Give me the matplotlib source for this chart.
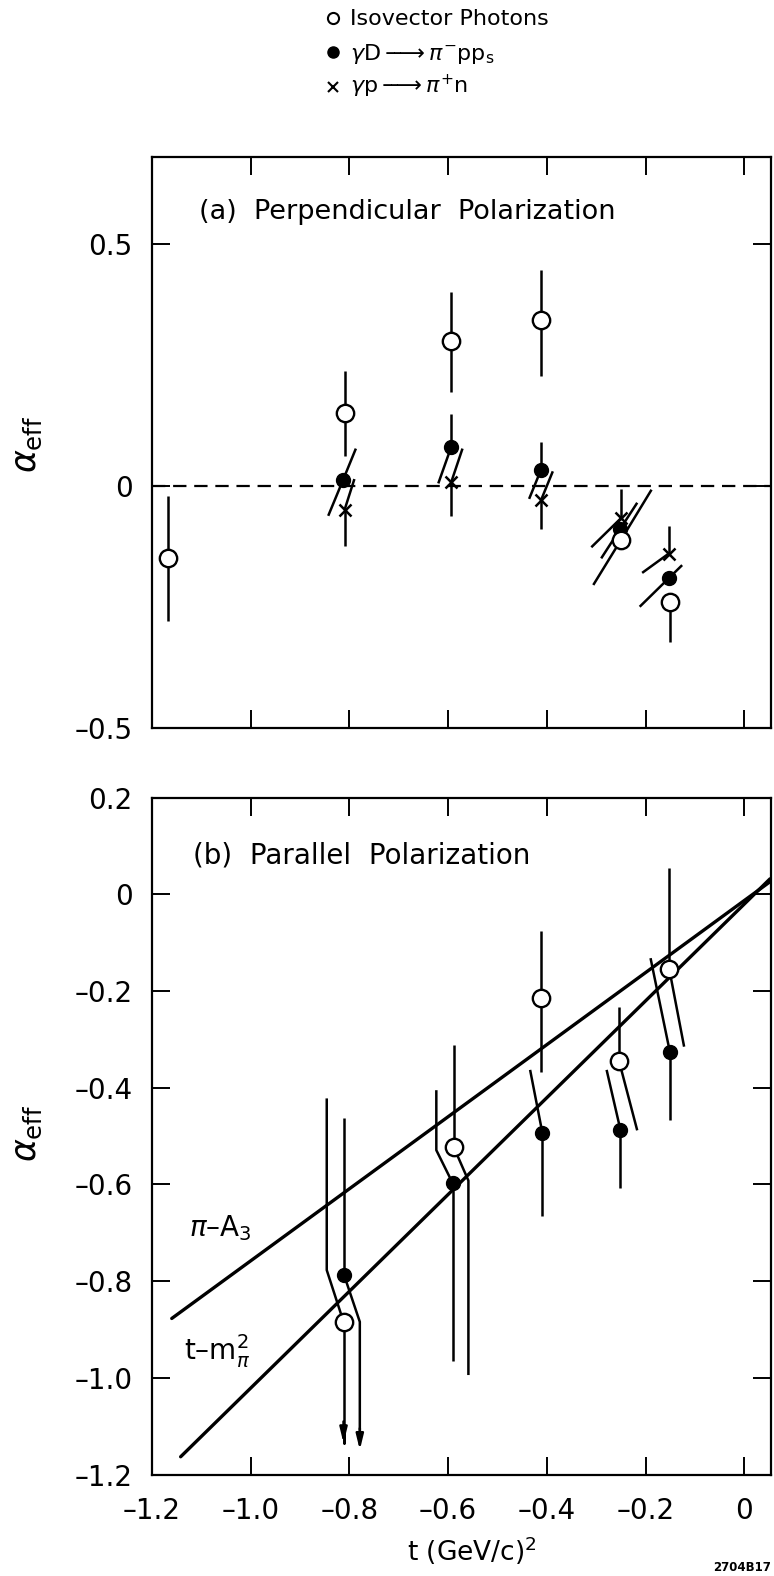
import matplotlib
matplotlib.use("Agg")
import matplotlib.pyplot as plt
from matplotlib.lines import Line2D

plt.rcParams['font.family'] = ['DejaVu Sans']
plt.rcParams['mathtext.fontset'] = 'dejavusans'

# ---------------- data ----------------
x_ticks = [-1.2, -1.0, -0.8, -0.6, -0.4, -0.2, 0.0]
x_tick_labels = ["–1.2", "–1.0", "–0.8", "–0.6", "–0.4", "–0.2", "0"]
ya_ticks = [0.5, 0.0, -0.5]
ya_tick_labels = ["0.5", "0", "–0.5"]
yb_ticks = [0.2, 0.0, -0.2, -0.4, -0.6, -0.8, -1.0, -1.2]
yb_tick_labels = ["0.2", "0", "–0.2", "–0.4", "–0.6", "–0.8", "–1.0", "–1.2"]

legend_labels = ["Isovector Photons",
                 r"$\gamma\mathrm{D}\,{-}\!\!\!\!\longrightarrow\pi^{-}\mathrm{pp}_{\mathrm{s}}$",
                 r"$\gamma\mathrm{p}\,{-}\!\!\!\!\longrightarrow\pi^{+}\mathrm{n}$"]

# Panel (a): perpendicular polarization
t_iso_a = [-1.167, -0.810, -0.594, -0.412, -0.250, -0.150]
a_iso_a = [-0.150, 0.150, 0.299, 0.343, -0.112, -0.240]
lo_iso_a = [0.130, 0.088, 0.104, 0.115, 0.093, 0.083]
hi_iso_a = [0.130, 0.087, 0.102, 0.104, 0.104, 0.0]
dtlo_iso_a = [0, 0, 0, 0, -0.056, 0]
dthi_iso_a = [0, 0, 0, 0, 0.062, 0]

t_fil_a = [-0.813, -0.594, -0.412, -0.252, -0.153]
a_fil_a = [0.012, 0.080, 0.033, -0.090, -0.191]
lo_fil_a = [0.074, 0.075, 0.060, 0.060, 0.059]
hi_fil_a = [0.065, 0.068, 0.057, 0.055, 0.027]
dtlo_fil_a = [-0.030, -0.026, -0.024, -0.038, -0.059]
dthi_fil_a = [0.026, 0, 0, 0.035, 0.027]

t_x_a = [-0.810, -0.594, -0.412, -0.250, -0.153]
a_x_a = [-0.050, 0.007, -0.030, -0.067, -0.140]
lo_x_a = [0.074, 0.070, 0.060, 0.060, 0.040]
hi_x_a = [0.064, 0.070, 0.060, 0.060, 0.057]
dtlo_x_a = [0, 0, 0, -0.060, -0.054]
dthi_x_a = [0.020, 0.023, 0.024, 0, 0]

# Panel (b): parallel polarization
t_iso_b = [-0.812, -0.589, -0.411, -0.254, -0.152]
a_iso_b = [-0.884, -0.522, -0.215, -0.344, -0.155]
lo_iso_b = [0.251, 0.472, 0.152, 0.144, 0.160]
hi_iso_b = [0.462, 0.211, 0.140, 0.110, 0.209]
dtlo_iso_b = [0, 0.030, 0, 0.037, 0.030]
dthi_iso_b = [-0.034, 0, 0, 0, 0]
klo_iso_b = [0, 0.070, 0, 0, 0]
khi_iso_b = [0.107, 0, 0, 0, 0]
arrow_iso_b = [True, False, False, False, False]

t_fil_b = [-0.811, -0.591, -0.409, -0.251, -0.151]
a_fil_b = [-0.787, -0.597, -0.494, -0.487, -0.325]
lo_fil_b = [0.362, 0.369, 0.172, 0.121, 0.142]
hi_fil_b = [0.324, 0.192, 0.131, 0.124, 0.193]
dtlo_fil_b = [0.032, 0, 0, 0, 0]
dthi_fil_b = [0, -0.033, -0.025, -0.028, -0.039]
klo_fil_b = [0.097, 0, 0, 0, 0]
khi_fil_b = [0, 0.068, 0, 0, 0]
arrow_fil_b = [True, False, False, False, False]

# model curves (panel b)
piA3_t = [-1.160, 0.052]
piA3_a = [-0.877, 0.026]
tm_t = [-1.142, 0.052]
tm_a = [-1.163, 0.032]

# ---------------- drawing helpers ----------------
BAR_LW = 1.8


def draw_bars(ax, t, a, lo, hi, dtlo, dthi, klo=None, khi=None, arrows=None):
    n = len(t)
    klo = klo if klo is not None else [0] * n
    khi = khi if khi is not None else [0] * n
    arrows = arrows if arrows is not None else [False] * n
    for i in range(n):
        for sign, err, dt, k in ((-1, lo[i], dtlo[i], klo[i]), (1, hi[i], dthi[i], khi[i])):
            if err <= 0:
                continue
            kk = k if k > 0 else err
            xs = [t[i], t[i] + dt, t[i] + dt]
            ys = [a[i], a[i] + sign * kk, a[i] + sign * err]
            if sign < 0 and arrows[i]:
                ys[-1] = a[i] - err + 0.04
                ax.annotate('', xy=(t[i] + dt, a[i] - err), xytext=(t[i] + dt, a[i] - err + 0.045),
                            arrowprops=dict(arrowstyle='-|>,head_length=0.9,head_width=0.22',
                                            color='black', lw=BAR_LW, shrinkA=0, shrinkB=0),
                            zorder=2)
            ax.plot(xs, ys, color='black', lw=BAR_LW, solid_capstyle='butt', zorder=2)


def draw_points(ax, t, a, kind):
    if kind == 'open':
        ax.plot(t, a, ls='none', marker='o', ms=12.5, mfc='white', mec='black', mew=1.7, zorder=4)
    elif kind == 'filled':
        ax.plot(t, a, ls='none', marker='o', ms=10, mfc='black', mec='black', mew=1.0, zorder=4)
    else:
        ax.plot(t, a, ls='none', marker='x', ms=9, mec='black', mew=1.8, zorder=4)


def style_axes(ax, yticks, ylabels, xlabels_on):
    ax.set_xlim(-1.2, 0.054)
    ax.set_xticks(x_ticks)
    if xlabels_on:
        ax.set_xticklabels(x_tick_labels)
    else:
        ax.set_xticklabels([])
    ax.set_yticks(yticks)
    ax.set_yticklabels(ylabels)
    ax.tick_params(direction='in', top=True, right=True, length=13, width=1.4,
                   labelsize=20)
    ax.tick_params(axis='y', pad=14)
    ax.tick_params(axis='x', pad=16)
    for s in ax.spines.values():
        s.set_linewidth(1.6)


fig = plt.figure(figsize=(7.74, 15.76), dpi=100)
ax_a = fig.add_axes([0.1964, 0.5383, 0.7997, 0.3621])
ax_b = fig.add_axes([0.1964, 0.0643, 0.7997, 0.4296])

# ---- panel (a)
ax_a.set_ylim(-0.5, 0.68)
ax_a.axhline(0, color='black', lw=1.6, ls=(0, (6, 3.5)), zorder=1)
draw_bars(ax_a, t_iso_a, a_iso_a, lo_iso_a, hi_iso_a, dtlo_iso_a, dthi_iso_a)
draw_bars(ax_a, t_fil_a, a_fil_a, lo_fil_a, hi_fil_a, dtlo_fil_a, dthi_fil_a)
draw_bars(ax_a, t_x_a, a_x_a, lo_x_a, hi_x_a, dtlo_x_a, dthi_x_a)
draw_points(ax_a, t_x_a, a_x_a, 'x')
draw_points(ax_a, t_fil_a, a_fil_a, 'filled')
draw_points(ax_a, t_iso_a, a_iso_a, 'open')
style_axes(ax_a, ya_ticks, ya_tick_labels, False)
ax_a.text(0.076, 0.904, "(a)  Perpendicular  Polarization", transform=ax_a.transAxes,
          fontsize=19.5, ha='left', va='center')

# ---- panel (b)
ax_b.set_ylim(-1.2, 0.2)
ax_b.plot(piA3_t, piA3_a, color='black', lw=2.4, solid_capstyle='round', zorder=3)
ax_b.plot(tm_t, tm_a, color='black', lw=2.4, solid_capstyle='round', zorder=3)
draw_bars(ax_b, t_iso_b, a_iso_b, lo_iso_b, hi_iso_b, dtlo_iso_b, dthi_iso_b,
          klo_iso_b, khi_iso_b, arrow_iso_b)
draw_bars(ax_b, t_fil_b, a_fil_b, lo_fil_b, hi_fil_b, dtlo_fil_b, dthi_fil_b,
          klo_fil_b, khi_fil_b, arrow_fil_b)
draw_points(ax_b, t_fil_b, a_fil_b, 'filled')
draw_points(ax_b, t_iso_b, a_iso_b, 'open')
style_axes(ax_b, yb_ticks, yb_tick_labels, True)
ax_b.text(0.066, 0.915, "(b)  Parallel  Polarization", transform=ax_b.transAxes,
          fontsize=20, ha='left', va='center')
ax_b.text(-1.126, -0.69, r"$\pi$–A$_3$", fontsize=20, ha='left', va='center')
ax_b.text(-1.135, -0.945, r"t–$\mathrm{m}^2_\pi$", fontsize=20, ha='left', va='center')

# axis labels
W, H = 774.0, 1576.0
fig.text(27 / W, 1 - 444 / H, r"$\alpha_{\mathrm{eff}}$", rotation=90, fontsize=25,
         ha='center', va='center')
fig.text(27 / W, 1 - 1133 / H, r"$\alpha_{\mathrm{eff}}$", rotation=90, fontsize=25,
         ha='center', va='center')
fig.text(472 / W, 1 - 1551 / H, r"t (GeV/c)$^2$", fontsize=19, ha='center', va='center')
fig.text(771 / W, 1 - 1571 / H, "2704B17", fontsize=8.5, fontweight='bold',
         ha='right', va='baseline')

# legend at top
leg_marker_x = 333 / W
leg_text_x = 350 / W
leg_base = [25, 59.5, 93]
leg_marker_y = [18, 52, 87]
leg_styles = [dict(marker='o', ms=8, mfc='white', mec='black', mew=1.5),
              dict(marker='o', ms=8, mfc='black', mec='black', mew=1.0),
              dict(marker='x', ms=6.5, mec='black', mew=1.5)]
for lab, yb, ym, st in zip(legend_labels, leg_base, leg_marker_y, leg_styles):
    fig.add_artist(Line2D([leg_marker_x], [1 - ym / H], ls='none', transform=fig.transFigure, **st))
    fig.text(leg_text_x, 1 - yb / H, lab, fontsize=16, ha='left', va='baseline')

fig.savefig("out.png", dpi=100)
